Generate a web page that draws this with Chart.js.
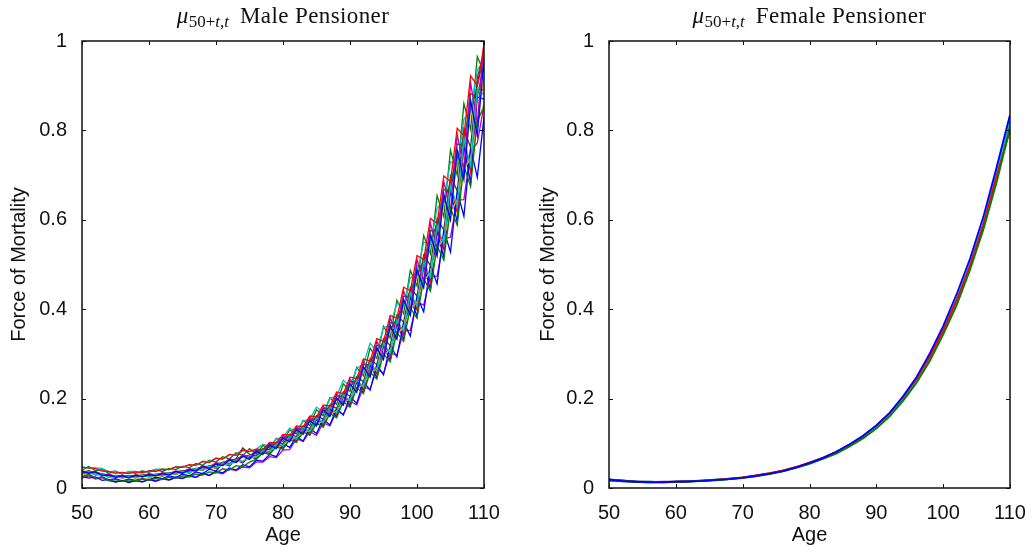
<!DOCTYPE html>
<html>
<head>
<meta charset="utf-8">
<script src="https://cdn.jsdelivr.net/npm/chart.js@4/dist/chart.umd.min.js"></script>
<style>
  body { margin: 0; background: #fff; }
  #wrap { position: relative; width: 1035px; height: 552px; overflow: hidden; }
  .panel { position: absolute; top: 0; }
  .title {
    position: absolute; top: 4px; text-align: center;
    font-family: "Liberation Serif", "DejaVu Serif", serif; font-size: 23px;
    letter-spacing: 0.4px; line-height: 23px; color: #111; white-space: nowrap;
  }
  .title i { font-style: italic; }
  .title sub { font-size: 17px; vertical-align: -4px; margin-right: 11px; letter-spacing: 0; }
</style>
</head>
<body>
<div id="wrap">
  <div class="panel" style="left:0"><canvas id="male" width="517" height="552"></canvas></div>
  <div class="panel" style="left:517px"><canvas id="female" width="518" height="552"></canvas></div>
  <div class="title" style="left:82px;width:402px"><i>μ</i><sub>50+<i>t</i>,<i>t</i></sub>Male Pensioner</div>
  <div class="title" style="left:609px;width:401px"><i>μ</i><sub>50+<i>t</i>,<i>t</i></sub>Female Pensioner</div>
</div>
<script>
// ages 50..110, one value per year (male), every second year (female)
const maleAges = [50,51,52,53,54,55,56,57,58,59,60,61,62,63,64,65,66,67,68,69,70,71,72,73,74,75,76,77,78,79,80,
  81,82,83,84,85,86,87,88,89,90,91,92,93,94,95,96,97,98,99,100,101,102,103,104,105,106,107,108,109,110];
const femaleAges = [50,52,54,56,58,60,62,64,66,68,70,72,74,76,78,80,82,84,86,88,90,92,94,96,98,100,102,104,106,108,110];

const xTicks = [50, 60, 70, 80, 90, 100, 110];
const yTicks = [0, 0.2, 0.4, 0.6, 0.8, 1];

// simulated male paths (approximate)
const maleRun1 = [.037,.033,.036,.028,.029,.024,.027,.023,.028,.025,.030,.027,.032,.029,.037,.033,.041,.038,.048,.043,.054,
  .050,.063,.057,.071,.064,.082,.075,.096,.088,.112,.103,.131,.120,.151,.139,.175,.160,.202,.185,.233,
  .214,.271,.248,.313,.287,.363,.333,.421,.386,.488,.448,.566,.519,.656,.600,.756,.690,.866,.789,.96];
const maleRun2 = [.024,.030,.022,.024,.017,.019,.015,.018,.016,.020,.017,.021,.019,.024,.022,.027,.025,.031,.029,.036,.034,
  .043,.040,.050,.047,.058,.064,.079,.075,.092,.087,.108,.102,.125,.118,.145,.136,.167,.157,.193,.181,
  .224,.211,.259,.244,.300,.282,.348,.328,.403,.380,.468,.440,.541,.510,.626,.588,.720,.674,.824,.85];
const maleRun3 = [.046,.045,.044,.038,.037,.033,.035,.032,.036,.034,.039,.037,.042,.041,.047,.046,.052,.051,.059,.057,.066,
  .065,.075,.073,.084,.082,.087,.086,.102,.101,.120,.118,.139,.137,.161,.159,.186,.183,.215,.211,.248,
  .245,.289,.284,.334,.328,.386,.380,.449,.441,.520,.511,.603,.592,.698,.685,.805,.788,.922,.901,.99];
const maleRun4 = [.031,.037,.030,.031,.024,.027,.023,.026,.023,.028,.025,.030,.027,.033,.031,.037,.034,.043,.040,.049,.045,
  .056,.052,.064,.059,.073,.068,.085,.080,.100,.094,.116,.109,.135,.126,.157,.146,.181,.168,.209,.194,
  .242,.226,.281,.261,.324,.302,.376,.351,.437,.407,.506,.472,.587,.546,.678,.630,.780,.722,.892,.88];
const maleRun5 = [.038,.034,.037,.029,.031,.025,.028,.024,.029,.026,.032,.028,.034,.030,.038,.034,.043,.039,.050,.045,.057,
  .051,.066,.059,.075,.067,.086,.078,.101,.091,.118,.106,.137,.124,.158,.143,.183,.165,.211,.191,.244,
  .221,.284,.257,.328,.296,.380,.344,.441,.399,.511,.463,.592,.536,.686,.619,.791,.713,.906,.815,1.0];
const maleRun6 = [.028,.032,.031,.029,.026,.025,.024,.023,.024,.019,.022,.027,.028,.030,.031,.034,.035,.039,.041,.045,.046,
  .051,.053,.058,.061,.066,.070,.079,.083,.091,.096,.107,.112,.124,.129,.144,.149,.166,.172,.191,.199,
  .222,.231,.257,.267,.297,.309,.344,.359,.399,.416,.463,.482,.536,.558,.619,.644,.713,.738,.815,.86];
const maleRun7 = [.032,.039,.031,.032,.026,.028,.024,.027,.025,.029,.027,.031,.029,.034,.032,.039,.036,.044,.042,.050,.048,
  .058,.055,.066,.090,.075,.072,.088,.085,.103,.099,.120,.115,.139,.133,.162,.154,.186,.178,.215,.205,
  .249,.238,.289,.276,.334,.319,.387,.371,.449,.429,.521,.498,.603,.577,.698,.665,.803,.762,.918,.97];
const maleRun8 = [.026,.022,.025,.017,.019,.013,.017,.012,.017,.014,.019,.015,.021,.018,.024,.021,.028,.024,.033,.028,.038,
  .034,.045,.040,.052,.047,.062,.060,.075,.070,.099,.091,.115,.105,.133,.122,.154,.141,.178,.163,.205,
  .189,.238,.219,.276,.253,.319,.293,.371,.340,.429,.394,.498,.457,.577,.528,.665,.608,.762,.695,.83];
const maleRun9 = [.037,.037,.036,.031,.030,.027,.028,.026,.029,.028,.031,.030,.033,.033,.037,.037,.042,.042,.048,.048,.055,
  .055,.064,.063,.073,.071,.084,.084,.098,.098,.114,.114,.133,.133,.154,.154,.178,.177,.206,.205,.238,
  .238,.276,.275,.319,.318,.370,.369,.429,.428,.497,.497,.576,.575,.668,.665,.770,.765,.882,.875,.95];
const maleRun10 = [.030,.037,.029,.031,.024,.027,.022,.026,.023,.028,.025,.030,.026,.033,.030,.037,.033,.043,.039,.049,.044,
  .056,.051,.064,.058,.073,.067,.085,.078,.100,.092,.116,.106,.135,.123,.157,.143,.181,.165,.209,.190,
  .242,.221,.281,.255,.324,.296,.376,.343,.437,.398,.506,.461,.587,.534,.678,.616,.780,.706,.892,.89];
const maleRun11 = [.048,.044,.045,.044,.036,.038,.032,.037,.037,.034,.038,.042,.042,.041,.048,.047,.051,.050,.060,.059,.067,
  .064,.074,.075,.086,.081,.087,.098,.093,.110,.114,.134,.127,.150,.154,.181,.170,.200,.206,.241,.227,
  .268,.276,.324,.305,.359,.363,.413,.406,.470,.479,.550,.545,.626,.643,.730,.721,.825,.842,.935,.957];
const maleRun12 = [.022,.027,.020,.023,.016,.014,.016,.014,.016,.014,.018,.016,.020,.018,.023,.022,.026,.024,.031,.029,.035,
  .032,.042,.039,.047,.045,.058,.058,.070,.068,.085,.086,.111,.104,.126,.118,.146,.139,.172,.165,.194,
  .186,.226,.221,.267,.256,.302,.297,.351,.353,.416,.409,.472,.474,.558,.561,.644,.645,.754,.772,.856];
const maleRun13 = [.037,.034,.036,.029,.030,.025,.028,.024,.029,.026,.031,.028,.033,.030,.037,.034,.042,.039,.048,.045,.045,
  .057,.052,.065,.059,.074,.068,.086,.080,.101,.094,.118,.109,.137,.126,.159,.146,.183,.168,.211,.227,
  .221,.264,.257,.305,.296,.353,.344,.410,.399,.475,.463,.550,.536,.637,.619,.735,.713,.842,.815,.92];
const maleRun14 = [.036,.037,.035,.031,.029,.027,.027,.026,.028,.028,.030,.030,.032,.033,.036,.038,.040,.043,.047,.049,.053,
  .057,.061,.065,.070,.073,.080,.086,.094,.100,.110,.117,.128,.136,.148,.158,.171,.182,.197,.210,.228,
  .244,.265,.282,.306,.326,.354,.379,.411,.440,.476,.510,.552,.591,.639,.683,.737,.786,.844,.899,.968];
const maleRun15 = [.025,.031,.022,.025,.018,.021,.016,.020,.017,.022,.019,.024,.021,.027,.024,.031,.027,.036,.032,.042,.038,
  .055,.049,.063,.056,.071,.065,.084,.076,.098,.088,.114,.103,.133,.119,.154,.138,.177,.159,.205,.184,
  .238,.213,.275,.247,.318,.286,.369,.332,.428,.384,.497,.445,.575,.516,.665,.595,.765,.682,.875,.87];
const maleRun16 = [.040,.048,.039,.041,.033,.037,.031,.036,.033,.038,.035,.041,.037,.044,.041,.049,.045,.055,.051,.062,.058,
  .070,.065,.079,.073,.088,.076,.095,.089,.111,.104,.130,.121,.151,.140,.175,.162,.202,.187,.233,.216,
  .270,.251,.313,.290,.362,.336,.420,.390,.487,.452,.565,.524,.654,.607,.756,.700,.860,.802,.965,.93];

// simulated female paths
const femaleRun1 = [.019,.016,.014,.013,.013,.014,.015,.016,.018,.020,.023,.027,.032,.038,.046,.056,.067,.081,.098,.117,.140,.168,.205,.248,.301,.362,.433,.512,.606,.718,.835];
const femaleRun2 = [.017,.015,.014,.012,.013,.013,.014,.016,.017,.020,.022,.026,.031,.037,.045,.054,.065,.077,.093,.111,.133,.160,.195,.235,.284,.343,.408,.487,.577,.684,.805];
const femaleRun3 = [.016,.017,.013,.013,.012,.014,.015,.017,.018,.021,.024,.028,.033,.039,.047,.057,.068,.081,.097,.116,.140,.168,.203,.244,.294,.352,.419,.496,.588,.698,.800];
const femaleRun4 = [.020,.015,.014,.014,.013,.014,.015,.016,.019,.020,.023,.027,.032,.038,.046,.055,.066,.079,.095,.114,.136,.165,.199,.242,.293,.354,.422,.500,.592,.703,.825];
const femaleRun5 = [.018,.016,.015,.013,.014,.014,.016,.016,.018,.021,.023,.028,.032,.039,.046,.056,.067,.080,.096,.115,.138,.166,.201,.243,.292,.352,.418,.497,.590,.700,.815];
const femaleRun6 = [.017,.016,.014,.013,.013,.015,.015,.017,.018,.020,.024,.027,.033,.038,.047,.055,.067,.079,.096,.114,.137,.164,.200,.240,.291,.350,.416,.494,.585,.695,.810];
const femaleRun7 = [.018,.017,.014,.014,.013,.014,.016,.016,.018,.020,.023,.027,.032,.039,.046,.056,.066,.080,.095,.115,.138,.165,.201,.243,.294,.353,.421,.499,.591,.706,.830];

// old matlab line colour order
const colours = ['#0000ff', '#008000', '#ff0000', '#00bfbf', '#bf00bf', '#bfbf00', '#404040'];

const maleRuns = [maleRun1, maleRun2, maleRun3, maleRun4, maleRun5, maleRun6, maleRun7, maleRun8,
  maleRun9, maleRun10, maleRun11, maleRun12, maleRun13, maleRun14, maleRun15, maleRun16];
const femaleRuns = [femaleRun1, femaleRun2, femaleRun3, femaleRun4, femaleRun5, femaleRun6, femaleRun7];

function makeDatasets(ages, runs, width) {
  return runs.map((run, i) => ({
    data: run.map((v, j) => ({ x: ages[j], y: v })),
    borderColor: colours[i % colours.length],
    borderWidth: width,
    pointRadius: 0,
    tension: 0,
    fill: false
  }));
}

// box round the plot with ticks pointing inwards, like matlab
const boxPlugin = {
  id: 'box',
  afterDraw(chart) {
    const { ctx, chartArea: a, scales } = chart;
    ctx.save();
    ctx.strokeStyle = '#111';
    ctx.lineWidth = 1.5;
    ctx.strokeRect(a.left, a.top, a.right - a.left, a.bottom - a.top);
    ctx.lineWidth = 1;
    ctx.beginPath();
    xTicks.forEach(t => {
      const x = Math.round(scales.x.getPixelForValue(t)) + 0.5;
      ctx.moveTo(x, a.bottom); ctx.lineTo(x, a.bottom - 4);
      ctx.moveTo(x, a.top); ctx.lineTo(x, a.top + 4);
    });
    yTicks.forEach(t => {
      const y = Math.round(scales.y.getPixelForValue(t)) + 0.5;
      ctx.moveTo(a.left, y); ctx.lineTo(a.left + 4, y);
      ctx.moveTo(a.right, y); ctx.lineTo(a.right - 4, y);
    });
    ctx.stroke();
    ctx.restore();
  }
};

const tickFont = { family: '"Liberation Sans", Arial, sans-serif', size: 20 };

function makeChart(id, ages, runs, width, padLeft, padRight, yWidth) {
  return new Chart(document.getElementById(id), {
    type: 'line',
    data: { datasets: makeDatasets(ages, runs, width) },
    options: {
      responsive: false,
      animation: false,
      layout: { padding: { left: padLeft, right: padRight, top: 41, bottom: 0 } },
      plugins: { legend: { display: false }, tooltip: { enabled: false } },
      scales: {
        x: {
          type: 'linear', min: 50, max: 110,
          afterFit: s => { s.height = 64; },
          grid: { display: false },
          border: { display: false },
          ticks: { stepSize: 10, color: '#111', font: tickFont, padding: 5, maxRotation: 0 },
          title: { display: true, text: 'Age', color: '#111', font: tickFont, padding: { top: 0, bottom: 5 } }
        },
        y: {
          min: 0, max: 1,
          afterFit: s => { s.width = yWidth; },
          grid: { display: false },
          border: { display: false },
          ticks: {
            stepSize: 0.2, color: '#111', font: tickFont, padding: 7,
            callback: v => String(Number(v.toFixed(1)))
          },
          title: { display: true, text: 'Force of Mortality', color: '#111', font: tickFont, padding: { top: 7, bottom: 0 } }
        }
      }
    },
    plugins: [boxPlugin]
  });
}

makeChart('male', maleAges, maleRuns, 1.3, 0, 33, 82);
makeChart('female', femaleAges, femaleRuns, 1.8, 12, 25, 80);
</script>
</body>
</html>
